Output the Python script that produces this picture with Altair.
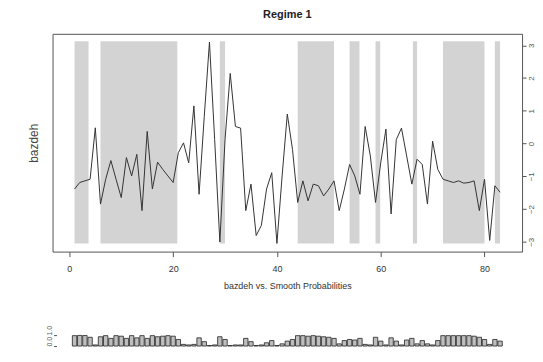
import altair as alt
import pandas as pd

FONT = "Liberation Sans"

# ---- data ----
t = list(range(1, 84))
bazdeh = [
    -1.39, -1.19, -1.14, -1.09, 0.48, -1.85, -1.09, -0.52, -1.09, -1.65,
    -0.43, -0.99, -0.33, -2.05, 0.37, -1.39, -0.57, -0.79, -0.99, -1.19,
    -0.28, 0.02, -0.59, 1.15, -1.55, 0.83, 3.10, 0.12, -3.01, 0.12,
    2.14, 0.52, 0.47, -2.05, -1.24, -2.81, -2.50, -1.39, -0.89, -3.05,
    -0.99, 0.90, -0.18, -1.80, -1.14, -1.75, -1.24, -1.29, -1.60, -1.39,
    -1.14, -2.05, -1.39, -0.64, -0.99, -1.55, 0.52, -0.38, -1.80, -0.59,
    0.44, -2.15, 0.12, 0.47, -0.38, -1.24, -0.48, -0.64, -1.85, 0.07,
    -0.79, -1.09, -1.14, -1.19, -1.14, -1.21, -1.19, -1.14, -2.05, -1.09,
    -2.96, -1.29, -1.49,
]
shade_start = [1, 6, 29, 44, 54, 59, 66.2, 72, 82]
shade_end = [3.7, 20.8, 30, 51, 55.9, 59.9, 67, 80, 83]
shade_lo = -3.05
shade_hi = 3.12
x_ticks = [0, 20, 40, 60, 80]
y_ticks = [-3, -2, -1, 0, 1, 2, 3]
prob = [
    0.95, 0.97, 0.96, 0.80, 0.10, 0.85, 0.95, 0.70, 0.95, 0.90,
    0.70, 0.95, 0.75, 0.95, 0.70, 0.95, 0.85, 0.90, 0.95, 0.90,
    0.60, 0.15, 0.10, 0.15, 0.75, 0.40, 0.05, 0.10, 0.85, 0.60,
    0.05, 0.10, 0.10, 0.70, 0.40, 0.05, 0.10, 0.30, 0.50, 0.05,
    0.20, 0.45, 0.60, 0.95, 0.95, 0.90, 0.95, 0.90, 0.85, 0.80,
    0.70, 0.20, 0.50, 0.60, 0.55, 0.70, 0.15, 0.10, 0.80, 0.45,
    0.10, 0.75, 0.45, 0.10, 0.55, 0.70, 0.20, 0.50, 0.20, 0.10,
    0.50, 0.95, 0.95, 0.95, 0.95, 0.95, 0.95, 0.90, 0.80, 0.60,
    0.15, 0.60, 0.45,
]
p_ticks = [0, 1]

# ---- tables ----
line_df = pd.DataFrame({"t": t, "v": bazdeh})
shade_df = pd.DataFrame({"start": shade_start, "end": shade_end,
                         "lo": [shade_lo] * len(shade_start),
                         "hi": [shade_hi] * len(shade_start)})
prob_df = pd.DataFrame({"t": t, "p": prob})

W, H = 472.2, 219
xscale = alt.Scale(domain=[-2.28, 86.28], nice=False, zero=False)
yscale = alt.Scale(domain=[-3.30, 3.35], nice=False, zero=False)
# the lower probability strip sits below the main panel
pscale = alt.Scale(domain=[0, 1], range=[H + 95, H + 84], nice=False)

xaxis = alt.Axis(values=x_ticks, title="bazdeh vs. Smooth Probabilities",
                 domain=False, grid=False, tickSize=5, tickColor="#555",
                 labelPadding=8, labelFontSize=9, labelFont=FONT,
                 labelColor="#333", titleFont=FONT, titleFontSize=9,
                 titleFontWeight="normal", titleColor="#333", titlePadding=8)

shade = alt.Chart(shade_df).mark_rect(color="#d3d3d3").encode(
    x=alt.X("start:Q", scale=xscale, axis=xaxis),
    x2="end:Q",
    y=alt.Y("lo:Q", scale=yscale,
            axis=alt.Axis(orient="left", labels=False, ticks=False, domain=False,
                          grid=False, title="bazdeh", titleFont=FONT,
                          titleFontSize=12, titleFontWeight="normal",
                          titleColor="#444", titlePadding=12)),
    y2="hi:Q",
)

line = alt.Chart(line_df).mark_line(color="#333", strokeWidth=1).encode(
    x=alt.X("t:Q", scale=xscale, axis=xaxis),
    y=alt.Y("v:Q", scale=yscale,
            axis=alt.Axis(orient="right", values=y_ticks, title=None,
                          domain=False, grid=False, tickSize=4, tickColor="#555",
                          labelAngle=270, labelAlign="center", labelBaseline="top",
                          labelPadding=1, labelFontSize=8, labelFont=FONT,
                          labelColor="#555")),
)

bars = alt.Chart(prob_df).mark_bar(size=4.4, color="#bebebe", stroke="#222",
                                   strokeWidth=0.8).encode(
    x=alt.X("t:Q", scale=xscale, axis=xaxis),
    y=alt.Y("p:Q", scale=pscale,
            axis=alt.Axis(orient="left", values=p_ticks, format=".1f", offset=-4,
                          domain=False, grid=False, tickSize=3, tickColor="#555",
                          labelAngle=270, labelAlign="left",
                          labelBaseline="bottom", labelPadding=1,
                          labelFontSize=7, labelFont=FONT, labelColor="#555",
                          title=None)),
)

chart = alt.layer(shade, line, bars).resolve_scale(y="independent").properties(
    width=W, height=H,
    title=alt.TitleParams("Regime 1", font=FONT, fontSize=11, fontWeight="bold",
                          color="#222", offset=14),
    view=alt.ViewBackground(stroke="#555", strokeWidth=1),
    autosize=alt.AutoSizeParams(type="none"),
    padding={"left": 44.8, "top": 25, "right": 13, "bottom": 96},
).configure(font=FONT)

chart.save("out.html", embed_options={"renderer": "svg", "actions": False})
